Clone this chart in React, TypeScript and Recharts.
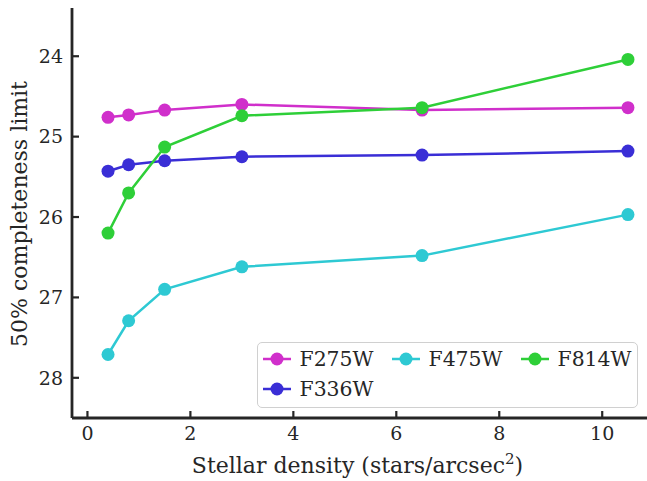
import React from 'react';
import { LineChart, Line, XAxis, YAxis, Legend } from 'recharts';

// stellar density (stars/arcsec^2)
const densities = [0.4, 0.8, 1.5, 3, 6.5, 10.5];

// 50% completeness limits per filter
const f275w = [24.76, 24.73, 24.67, 24.6, 24.67, 24.64];
const f336w = [25.43, 25.35, 25.3, 25.25, 25.23, 25.18];
const f475w = [27.71, 27.29, 26.9, 26.62, 26.48, 25.97];
const f814w = [26.2, 25.7, 25.13, 24.74, 24.64, 24.04];

const xTicks = [0, 2, 4, 6, 8, 10];
const yTicks = [24, 25, 26, 27, 28];

const SERIES = [
  { key: 'F275W', values: f275w, color: '#d02fcb' },
  { key: 'F336W', values: f336w, color: '#3a2ed6' },
  { key: 'F475W', values: f475w, color: '#2ec9d3' },
  { key: 'F814W', values: f814w, color: '#2ecf38' },
];

const data = densities.map((d, i) => {
  const row: Record<string, number> = { x: d };
  SERIES.forEach((s) => { row[s.key] = s.values[i]; });
  return row;
});

const FONT = 'DejaVu Serif';
const INK = '#262626';

// matplotlib-style legend, ncol=3, filled column by column
const renderLegend = () => {
  const cols = [[SERIES[0], SERIES[1]], [SERIES[2]], [SERIES[3]]];
  const colX = [6, 135, 264];
  return (
    <div style={{ position: 'relative', width: 381, height: 66, border: '1.5px solid #d0d0d0', borderRadius: 5, background: 'rgba(255,255,255,0.85)', boxSizing: 'border-box' }}>
      {cols.map((col, ci) =>
        col.map((s, ri) => (
          <div key={s.key} style={{ position: 'absolute', left: colX[ci] - 1.5, top: 2 + ri * 30, height: 28, display: 'flex', alignItems: 'center' }}>
            <svg width={28} height={24}>
              <line x1={0} y1={12} x2={28} y2={12} stroke={s.color} strokeWidth={2.5} />
              <circle cx={14} cy={12} r={6.5} fill={s.color} />
            </svg>
            <span style={{ marginLeft: 9, fontFamily: FONT, fontSize: 20.4, color: INK, lineHeight: '28px' }}>{s.key}</span>
          </div>
        ))
      )}
    </div>
  );
};

const XLabel = (props: any) => {
  const vb = props.viewBox;
  return (
    <text x={vb.x + vb.width / 2 - 2} y={473} textAnchor="middle" fontFamily={FONT} fontSize={22} fill={INK}>
      Stellar density (stars/arcsec
      <tspan dy={-9} fontSize={15}>2</tspan>
      <tspan dy={9}>)</tspan>
    </text>
  );
};

const YLabel = () => (
  <text x={27} y={214} transform="rotate(-90 27 214)" textAnchor="middle" fontFamily={FONT} fontSize={22} fill={INK}>
    50% completeness limit
  </text>
);

export default function App() {
  return (
    <div style={{ position: 'absolute', left: 0, top: 0, width: 647, height: 481, background: '#fff' }}>
      <LineChart width={647} height={481} data={data} margin={{ top: 8, right: 0, bottom: 0, left: 0 }}>
        <XAxis
          dataKey="x"
          type="number"
          domain={[-0.3, 10.87]}
          ticks={xTicks}
          allowDataOverflow
          height={63}
          axisLine={{ stroke: INK, strokeWidth: 2.8 }}
          tickLine={{ stroke: INK, strokeWidth: 2.2 }}
          tickSize={-7}
          tickMargin={16}
          tick={{ fontFamily: FONT, fontSize: 19, fill: INK }}
          label={<XLabel />}
        />
        <XAxis
          xAxisId="top"
          dataKey="x"
          type="number"
          orientation="top"
          domain={[-0.3, 10.87]}
          allowDataOverflow
          height={0}
          tick={false}
          tickLine={false}
          axisLine={{ stroke: INK, strokeWidth: 2.8 }}
        />
        <YAxis
          type="number"
          reversed
          domain={[23.4, 28.5]}
          ticks={yTicks}
          allowDataOverflow
          width={72}
          axisLine={{ stroke: INK, strokeWidth: 2.8 }}
          tickLine={{ stroke: INK, strokeWidth: 2.2 }}
          tickSize={-7}
          tickMargin={16}
          tick={{ fontFamily: FONT, fontSize: 19, fill: INK }}
          label={<YLabel />}
        />
        <Legend
          layout="vertical"
          align="center"
          verticalAlign="middle"
          content={renderLegend}
          wrapperStyle={{ position: 'absolute', left: 257, top: 342, width: 381, height: 66 }}
        />
        {SERIES.map((s) => (
          <Line
            key={s.key}
            dataKey={s.key}
            stroke={s.color}
            strokeWidth={2.5}
            dot={{ r: 6.5, fill: s.color, stroke: s.color, strokeWidth: 0 }}
            activeDot={false}
            isAnimationActive={false}
          />
        ))}
      </LineChart>
    </div>
  );
}
